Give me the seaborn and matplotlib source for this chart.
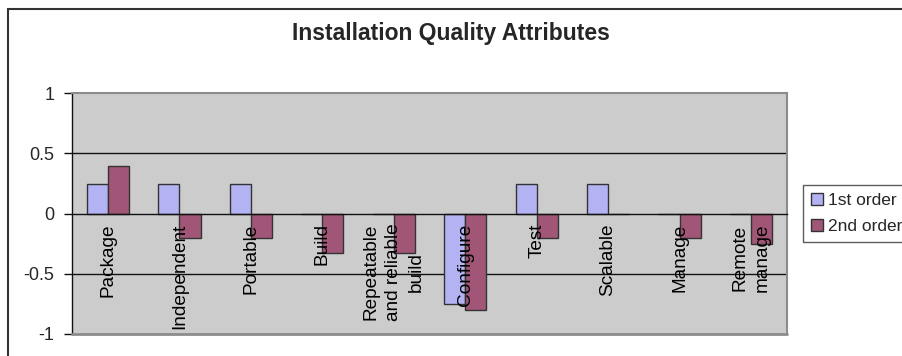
import matplotlib
matplotlib.use("Agg")
import matplotlib.pyplot as plt
from matplotlib.patches import Rectangle
from matplotlib.ticker import FixedLocator
import seaborn as sns
import pandas as pd

# Attribute scores per order
attributes = ["Package", "Independent", "Portable", "Build",
              "Repeatable\nand reliable\nbuild", "Configure", "Test",
              "Scalable", "Manage", "Remote\nmanage"]
first_order = [0.25, 0.25, 0.25, 0.0, 0.0, -0.75, 0.25, 0.25, 0.0, 0.0]
second_order = [0.40, -0.20, -0.20, -0.33, -0.33, -0.80, -0.20, 0.0, -0.20, -0.25]
series_names = ["1st order", "2nd order"]
y_ticks = [-1, -0.5, 0, 0.5, 1]
y_tick_labels = ["-1", "-0.5", "0", "0.5", "1"]

df = pd.DataFrame({
    "attribute": attributes * 2,
    "value": first_order + second_order,
    "order": [series_names[0]] * len(attributes) + [series_names[1]] * len(attributes),
})

sns.set_style("white")
plt.rcParams["font.family"] = ["Liberation Sans", "DejaVu Sans"]

fig = plt.figure(figsize=(9.03, 3.56), dpi=100)
ax = fig.add_axes([0.0801, 0.0618, 0.7911, 0.6761])
ax.set_facecolor("#CCCCCC")

sns.barplot(data=df, x="attribute", y="value", hue="order",
            palette=["#A8A8FF", "#AD4A76"], width=0.59,
            edgecolor="#333333", linewidth=1.0, ax=ax, zorder=3)

ax.set_xlim(-0.5, len(attributes) - 0.5)
ax.set_ylim(-1, 1)
ax.set_xlabel("")
ax.set_ylabel("")

# Horizontal gridlines
for yv in (0.5, -0.5):
    ax.axhline(yv, color="#111111", lw=1.0, zorder=1)

# Category axis runs along zero
ax.spines["bottom"].set_position(("data", 0))
ax.spines["bottom"].set_color("#111111")
ax.spines["bottom"].set_linewidth(1.0)
ax.spines["bottom"].set_zorder(4)
ax.spines["left"].set_color("#111111")
ax.spines["left"].set_linewidth(1.0)
for s in ("top", "right"):
    ax.spines[s].set_color("#8C8C8C")
    ax.spines[s].set_linewidth(1.5)
ax.axhline(-1, color="#8C8C8C", lw=2.0, zorder=5, clip_on=False)

ax.xaxis.set_minor_locator(FixedLocator([i - 0.5 for i in range(len(attributes) + 1)]))
ax.tick_params(axis="x", which="major", length=0, pad=7, labelsize=13.7,
               labelrotation=90, colors="black")
ax.tick_params(axis="x", which="minor", length=4, width=1, color="#111111",
               direction="out")
for lab in ax.get_xticklabels():
    lab.set_linespacing(1.45)
# category names sit on top of the bars
ax.xaxis.set_zorder(6)

ax.yaxis.set_major_locator(FixedLocator(y_ticks))
ax.set_yticklabels(y_tick_labels)
ax.tick_params(axis="y", which="major", length=6, width=1, color="#111111",
               direction="out", pad=7, labelsize=13, left=True)

# Legend outside the plot area
handles, labels = ax.get_legend_handles_labels()
if ax.get_legend() is not None:
    ax.get_legend().remove()
leg = fig.legend(handles, labels, loc="upper left",
                 bbox_to_anchor=(802.7 / 903, 1 - 185 / 356),
                 frameon=True, fancybox=False, shadow=False, fontsize=12.5,
                 handlelength=0.7, handleheight=0.7, handletextpad=0.3,
                 labelspacing=0.62, borderpad=0.45, borderaxespad=0)
leg.get_frame().set_edgecolor("#333333")
leg.get_frame().set_linewidth(1.0)

fig.text(0.4989, 0.888, "Installation Quality Attributes", ha="center",
         va="baseline", fontsize=16.5, fontweight="bold")

# Chart area border
fig.patches.append(Rectangle((8 / 903, -0.2), 1.2, 1.2 - 8.5 / 356,
                             transform=fig.transFigure, fill=False,
                             edgecolor="#333333", lw=1.5))

fig.savefig("out.png", dpi=100)
